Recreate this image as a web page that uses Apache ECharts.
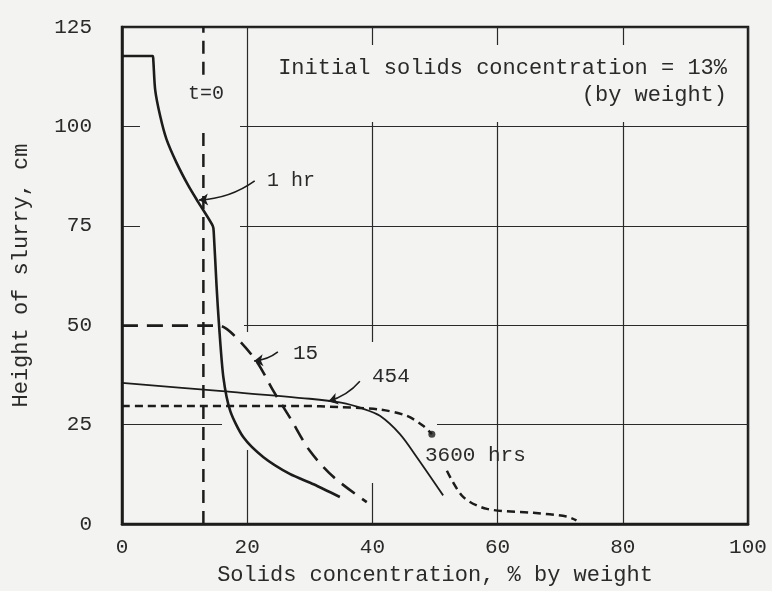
<!DOCTYPE html>
<html>
<head>
<meta charset="utf-8">
<script src="https://cdn.jsdelivr.net/npm/echarts@6/dist/echarts.min.js"></script>
<style>
  html, body { margin: 0; padding: 0; background: #f3f3f1; }
  #main { width: 772px; height: 591px; }
</style>
</head>
<body>
<div id="main"></div>
<script>
// x = solids concentration (% by weight), y = height of slurry (cm)
const xTicks = [0, 20, 40, 60, 80, 100];
const yTicks = [0, 25, 50, 75, 100, 125];

const curve1hr = [
  [0, 117.7], [4.9, 117.7], [5.0, 116.7], [5.3, 109.2], [6.1, 102.6], [7.1, 96.8],
  [8.7, 90.9], [10.6, 85.1], [12.2, 80.9], [14.5, 75.0], [14.65, 73.5], [15.1, 60],
  [15.5, 50], [16.2, 36.8], [17.3, 28.4], [19.4, 21.8], [22.6, 16.8], [26.8, 12.6],
  [30.6, 10.0], [34.8, 6.8]
];
const curve15 = [
  [0, 49.9], [15.4, 49.9], [17.8, 47.6], [21.5, 40.9], [24.2, 33.4], [26.8, 26.8],
  [30.0, 18.4], [33.8, 11.8], [39.1, 5.5]
];
const curve454 = [
  [0, 35.5], [16, 33.4], [30, 31.5], [35, 30.5], [38.5, 29.0], [41.2, 27.2],
  [44.4, 22.6], [47.1, 16.8], [51.3, 7.2]
];
const curve3600 = [
  [0, 29.7], [28.4, 29.7], [34.8, 29.4], [41.2, 28.8], [45.5, 27.2], [48.1, 24.7],
  [49.5, 22.6], null, [51.9, 13.4], [54.5, 6.8], [58.3, 3.8], [65.7, 2.8], [71.0, 1.9],
  [72.6, 0.9]
];
const dot3600 = [[49.5, 22.6]];
// t=0 line, broken where the label sits
const initialLine = [[13, 0], [13, 99.3], null, [13, 113], [13, 125]];

// annotation arrows: [from label, to curve]
const arrows = [
  [[21.2, 86.3], [12.3, 81.5]],
  [[24.9, 43.3], [21.1, 41.0]],
  [[38.0, 35.9], [33.0, 30.9]]
];

const ink = '#1c1c1c';
const txt = '#2a2a2a';
const paper = '#f3f3f1';
const mono = '"Liberation Mono", "DejaVu Sans Mono", monospace';

// spots where the original drawing leaves the grid lines out (px: x, y, w, h)
const gridGaps = [
  [255, 45, 490, 77],
  [140, 110, 100, 135],
  [124, 318, 120, 16],
  [240, 332, 15, 118],
  [222, 418, 215, 16],
  [367, 342, 16, 141]
];

const chart = echarts.init(document.getElementById('main'));

function lineSeries(data, width, type, smooth) {
  return {
    type: 'line',
    data: data,
    showSymbol: false,
    symbol: 'none',
    connectNulls: false,
    smooth: smooth,
    lineStyle: { color: ink, width: width, type: type, cap: 'butt', join: 'round' },
    silent: true
  };
}

function label(text, pos, size) {
  return {
    type: 'text', z: 100, ...pos,
    style: { text: text, font: size + 'px ' + mono, fill: txt }
  };
}

const option = {
  backgroundColor: paper,
  animation: false,
  grid: {
    left: 122, right: 24, top: 27, bottom: 65,
    show: true, borderColor: ink, borderWidth: 2.5, backgroundColor: 'transparent'
  },
  xAxis: {
    type: 'value',
    min: xTicks[0], max: xTicks[xTicks.length - 1], interval: 20,
    name: 'Solids concentration, % by weight',
    nameLocation: 'middle', nameGap: 40,
    nameTextStyle: { fontFamily: mono, fontSize: 22, color: txt },
    axisLine: { lineStyle: { color: ink, width: 2.5 } },
    axisTick: { show: false },
    axisLabel: { fontFamily: mono, fontSize: 21, color: txt, margin: 13 },
    splitLine: { lineStyle: { color: '#2a2a2a', width: 1.2 } }
  },
  yAxis: {
    type: 'value',
    min: yTicks[0], max: yTicks[yTicks.length - 1], interval: 25,
    name: 'Height of slurry, cm',
    nameLocation: 'middle', nameGap: 90,
    nameTextStyle: { fontFamily: mono, fontSize: 22, color: txt },
    axisLine: { lineStyle: { color: ink, width: 2.5 } },
    axisTick: { show: false },
    axisLabel: { fontFamily: mono, fontSize: 21, color: txt, margin: 30 },
    splitLine: { lineStyle: { color: '#2a2a2a', width: 1.2 } }
  },
  series: [
    lineSeries(initialLine, 2.5, [13, 8], false),
    lineSeries(curve1hr, 2.6, 'solid', 0.25),
    lineSeries(curve15, 2.6, [16, 9], 0.3),
    lineSeries(curve454, 1.8, 'solid', 0.3),
    lineSeries(curve3600, 2.5, [8, 5], 0.3),
    {
      type: 'scatter',
      data: dot3600,
      symbolSize: 7,
      itemStyle: { color: ink },
      silent: true
    },
    {
      type: 'lines',
      coordinateSystem: 'cartesian2d',
      data: arrows.map(a => ({ coords: a })),
      symbol: ['none', 'arrow'],
      symbolSize: 9,
      lineStyle: { color: ink, width: 1.6, curveness: 0.15, opacity: 1 },
      silent: true
    }
  ],
  graphic: gridGaps.map(r => ({
    type: 'rect', z: 1, silent: true,
    shape: { x: r[0], y: r[1], width: r[2], height: r[3] },
    style: { fill: paper }
  })).concat([
    label('t=0', { left: 188, top: 84 }, 20),
    label('1 hr', { left: 267, top: 171 }, 20),
    label('15', { left: 293, top: 343 }, 21),
    label('454', { left: 372, top: 366 }, 21),
    label('3600 hrs', { left: 425, top: 445 }, 21),
    label('Initial solids concentration = 13%', { right: 45, top: 57 }, 22),
    label('(by weight)', { right: 45, top: 84 }, 22)
  ])
};

chart.setOption(option);
</script>
</body>
</html>
